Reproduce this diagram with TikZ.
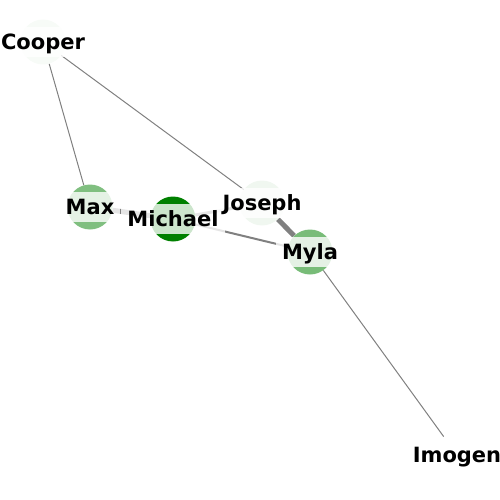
\documentclass[tikz,border=0pt]{standalone}
\usepackage{fontspec}
\setmainfont{DejaVu Sans}
\usepackage{xcolor}
\usepackage{tikz}
\usetikzlibrary{backgrounds}

\definecolor{leafgreen}{RGB}{0,128,0}

\begin{document}
\begin{tikzpicture}[
  x=1pt, y=-1pt,
  person/.style={circle, draw=none, minimum size=45pt, inner sep=0pt},
  lbl/.style={fill=white, fill opacity=0.8, text opacity=1, font=\fontsize{21}{21}\selectfont\bfseries,
    inner xsep=6pt, inner ysep=7.5pt, text height=15pt, text depth=0pt},
  link/.style={draw=gray, line width=1pt}
]
\useasboundingbox (0,0) rectangle (500,500);

\node[person, fill=leafgreen!3!white] (cooper) at (43,42) {};
\node[person, fill=leafgreen!50!white] (max) at (90,207) {};
\node[person, fill=leafgreen] (michael) at (173,219) {};
\node[person, fill=leafgreen!6!white] (joseph) at (262,203) {};
\node[person, fill=leafgreen!53!white] (myla) at (310,252) {};
\node[person, fill=white] (imogen) at (457,455) {};

\begin{scope}[on background layer]
\draw[link] (cooper) -- (max);
\draw[link] (cooper) -- (joseph);
\draw[link, line width=5pt] (max) -- (michael);
\draw[link, line width=3pt] (michael) -- (joseph);
\draw[link, line width=2pt] (michael) -- (myla);
\draw[link, line width=5pt] (joseph) -- (myla);
\draw[link] (myla) -- (imogen);
\end{scope}

\node[lbl] (cooper-l) at (cooper) {Cooper};
\node[lbl] (max-l) at (max) {Max};
\node[lbl] (michael-l) at (michael) {Michael};
\node[lbl] (joseph-l) at (joseph) {Joseph};
\node[lbl] (myla-l) at (myla) {Myla};
\node[lbl] (imogen-l) at (imogen) {Imogen};
\end{tikzpicture}
\end{document}
